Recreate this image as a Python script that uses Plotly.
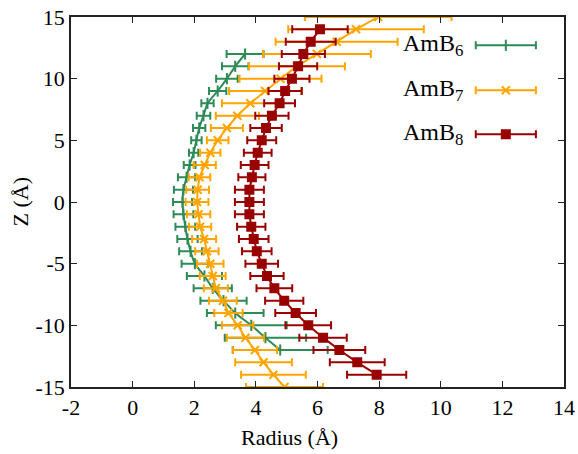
import plotly.graph_objects as go

# Radial profiles of the AmB channel along Z (Å): mean radius and spread
z_amb6 = list(range(12, -13, -1))
r_amb6 = [3.65, 3.33, 3.06, 2.76, 2.43, 2.30, 2.16, 2.07, 1.98, 1.85, 1.75, 1.65, 1.62,
          1.65, 1.71, 1.78, 1.88, 2.02, 2.33, 2.60, 2.95, 3.33, 3.85, 4.31, 4.79]
e_amb6 = [0.60, 0.43, 0.35, 0.28, 0.20, 0.22, 0.20, 0.17, 0.15, 0.19, 0.28, 0.31, 0.31,
          0.32, 0.32, 0.33, 0.37, 0.43, 0.57, 0.62, 0.75, 0.92, 1.15, 1.32, 1.54]

z_amb7 = list(range(15, -16, -1))
r_amb7 = [7.97, 7.25, 6.62, 5.98, 5.33, 4.80, 4.30, 3.82, 3.40, 3.06, 2.76, 2.52, 2.34,
          2.17, 2.11, 2.09, 2.14, 2.19, 2.32, 2.41, 2.52, 2.60, 2.70, 2.93, 3.11, 3.41,
          3.66, 3.97, 4.25, 4.57, 4.93]
e_amb7 = [2.38, 2.20, 1.98, 1.75, 1.56, 1.33, 1.17, 0.92, 0.70, 0.52, 0.35, 0.33, 0.36,
          0.35, 0.37, 0.37, 0.38, 0.36, 0.39, 0.38, 0.43, 0.42, 0.39, 0.45, 0.46, 0.51,
          0.60, 0.72, 0.92, 1.05, 1.25]

z_amb8 = list(range(14, -15, -1))
r_amb8 = [6.08, 5.78, 5.54, 5.37, 5.17, 4.95, 4.77, 4.52, 4.33, 4.19, 4.06, 3.96, 3.87,
          3.79, 3.79, 3.79, 3.85, 3.93, 4.03, 4.19, 4.36, 4.60, 4.92, 5.29, 5.70, 6.18,
          6.71, 7.29, 7.92]
e_amb8 = [0.90, 0.81, 0.70, 0.62, 0.57, 0.54, 0.50, 0.54, 0.51, 0.47, 0.45, 0.45, 0.44,
          0.47, 0.47, 0.47, 0.46, 0.48, 0.48, 0.53, 0.54, 0.58, 0.62, 0.66, 0.74, 0.77,
          0.84, 0.89, 0.96]

x_ticks = [-2, 0, 2, 4, 6, 8, 10, 12, 14]
y_ticks = [-15, -10, -5, 0, 5, 10, 15]

labels = ["AmB<sub>6</sub>", "AmB<sub>7</sub>", "AmB<sub>8</sub>"]
colors = ["#2e8b57", "#ffa500", "#990000"]
symbols = ["line-ns-open", "x-thin-open", "square"]
msizes = [8, 8, 8]

SERIF = "Liberation Serif"

fig = go.Figure()

series = [(r_amb6, z_amb6, e_amb6), (r_amb7, z_amb7, e_amb7), (r_amb8, z_amb8, e_amb8)]
for i, (r, z, e) in enumerate(series):
    fig.add_trace(go.Scatter(
        x=r, y=z, mode="lines+markers", name=labels[i], showlegend=False,
        line=dict(color=colors[i], width=2,
                  shape="spline" if i == 0 else "linear", smoothing=0.6),
        marker=dict(symbol=symbols[i], size=msizes[i], color=colors[i],
                    line=dict(color=colors[i], width=2)),
        error_x=dict(type="data", array=e, symmetric=True, color=colors[i],
                     thickness=2, width=4),
        cliponaxis=True,
    ))

# Key: label text followed by a sample bar with its marker
key_x = 0.882
key_half = 0.061
key_y = [0.9235, 0.802, 0.683]
for i in range(3):
    fig.add_trace(go.Scatter(
        x=[key_x], y=[key_y[i]], xaxis="x2", yaxis="y2", mode="markers",
        showlegend=False, hoverinfo="skip",
        marker=dict(symbol=symbols[i], size=msizes[i], color=colors[i],
                    line=dict(color=colors[i], width=2)),
        error_x=dict(type="constant", value=key_half, color=colors[i],
                     thickness=2, width=4),
    ))
    fig.add_annotation(
        x=0.80, y=key_y[i], xref="paper", yref="paper", text=labels[i],
        xanchor="right", yanchor="middle", showarrow=False,
        font=dict(family=SERIF, size=24, color="black"),
    )

# Axis titles, centred on the canvas horizontally as in the original layout
fig.add_annotation(x=0.4425, y=-0.136, xref="paper", yref="paper", text="Radius (Å)",
                   xanchor="center", yanchor="middle", showarrow=False,
                   font=dict(family=SERIF, size=22, color="black"))
fig.add_annotation(x=-0.1025, y=0.5, xref="paper", yref="paper", text="Z (Å)",
                   xanchor="center", yanchor="middle", showarrow=False, textangle=-90,
                   font=dict(family=SERIF, size=22, color="black"))

axis_common = dict(
    showline=True, linecolor="#222222", linewidth=1.5, mirror="ticks",
    ticks="inside", ticklen=6, tickwidth=1, tickcolor="#222222",
    showgrid=False, zeroline=False, automargin=False,
    tickfont=dict(family=SERIF, size=22, color="black"),
)

fig.update_layout(
    width=578, height=454,
    margin=dict(l=71, r=14, t=17, b=67),
    paper_bgcolor="white", plot_bgcolor="white",
    font=dict(family=SERIF, size=22, color="black"),
    xaxis=dict(range=[-2, 14], tickmode="array", tickvals=x_ticks,
               ticktext=[str(v) for v in x_ticks], **axis_common),
    yaxis=dict(range=[-15, 15], tickmode="array", tickvals=y_ticks,
               ticktext=[str(v) for v in y_ticks], **axis_common),
    xaxis2=dict(range=[0, 1], overlaying="x", anchor="y2", visible=False, fixedrange=True),
    yaxis2=dict(range=[0, 1], overlaying="y", anchor="x2", visible=False, fixedrange=True),
    showlegend=False,
)

fig.write_html("out.html")
